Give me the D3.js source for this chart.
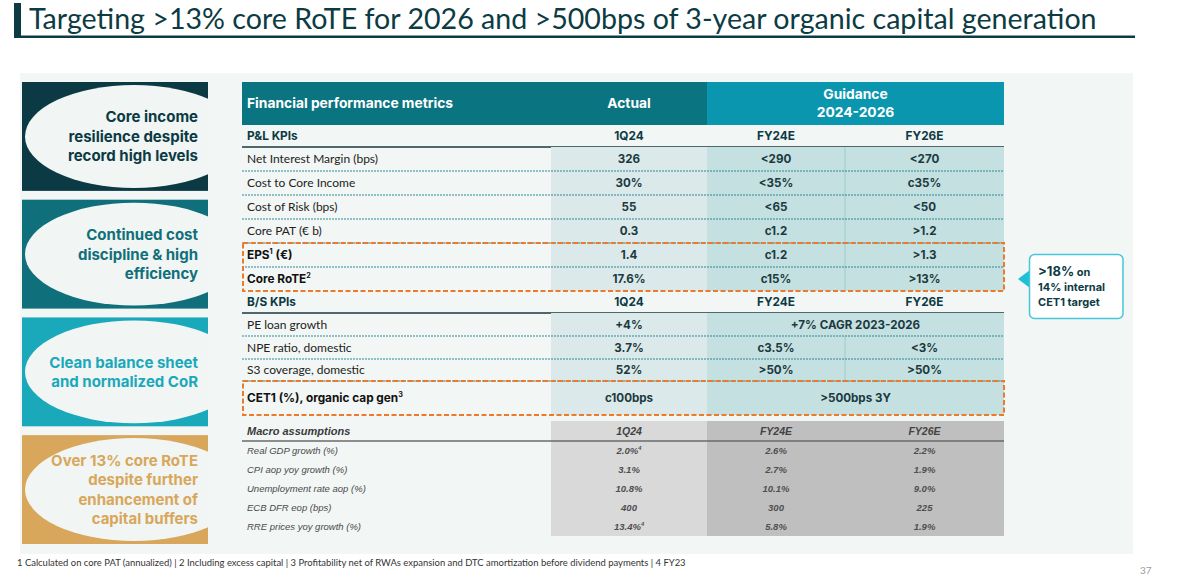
<!DOCTYPE html>
<html><head><meta charset="utf-8">
<script src="https://cdn.jsdelivr.net/npm/d3@7"></script>
<style>body{margin:0;background:#fff;} svg{display:block;}</style>
</head><body><svg id="c" width="1180" height="575"></svg>
<script>
// ---------------- DATA ----------------
const title = "Targeting >13% core RoTE for 2026 and >500bps of 3-year organic capital generation";
const pillars = [
  ["Core income", "resilience despite", "record high levels"],
  ["Continued cost", "discipline & high", "efficiency"],
  ["Clean balance sheet", "and normalized CoR"],
  ["Over 13% core RoTE", "despite further", "enhancement of", "capital buffers"]
];
const headerMetric = "Financial performance metrics";
const headerActual = "Actual";
const headerGuidance = ["Guidance", "2024-2026"];
const periods = ["1Q24", "FY24E", "FY26E"];
const plTitle = "P&L KPIs";
const plLabels = ["Net Interest Margin (bps)", "Cost to Core Income", "Cost of Risk (bps)", "Core PAT (€ b)", "EPS{1} (€)", "Core RoTE{2}"];
const plBold = [false, false, false, false, true, true];
const plActual = ["326", "30%", "55", "0.3", "1.4", "17.6%"];
const plFY24E = ["<290", "<35%", "<65", "c1.2", "c1.2", "c15%"];
const plFY26E = ["<270", "c35%", "<50", ">1.2", ">1.3", ">13%"];
const bsTitle = "B/S KPIs";
const bsLabels = ["PE loan growth", "NPE ratio, domestic", "S3 coverage, domestic", "CET1 (%), organic cap gen{3}"];
const bsBold = [false, false, false, true];
const bsActual = ["+4%", "3.7%", "52%", "c100bps"];
const bsFY24E = ["+7% CAGR 2023-2026", "c3.5%", ">50%", ">500bps 3Y"];
const bsFY26E = [null, "<3%", ">50%", null]; // null = merged with FY24E
const macroTitle = "Macro assumptions";
const macroLabels = ["Real GDP growth (%)", "CPI aop yoy growth (%)", "Unemployment rate aop (%)", "ECB DFR eop (bps)", "RRE prices yoy growth (%)"];
const macroActual = ["2.0%{4}", "3.1%", "10.8%", "400", "13.4%{4}"];
const macroFY24E = ["2.6%", "2.7%", "10.1%", "300", "5.8%"];
const macroFY26E = ["2.2%", "1.9%", "9.0%", "225", "1.9%"];
const highlightedPL = ["EPS{1} (€)", "Core RoTE{2}"];
const highlightedBS = ["CET1 (%), organic cap gen{3}"];
const calloutLines = [[">18%", " on"], ["14% internal"], ["CET1 target"]];
const footnote = "1 Calculated on core PAT (annualized) | 2 Including excess capital | 3 Profitability net of RWAs expansion and DTC amortization before dividend payments | 4 FY23";
const pageNumber = "37";

// ---------------- STYLE / LAYOUT ----------------
const svg = d3.select("#c");
const F = "Lato, 'Open Sans', sans-serif";
const FB = "Inter, Lato, sans-serif";
const FM = "'Liberation Sans', Arial, sans-serif";
const dark = "#0c3b44";
const pillarColors = ["#0b3a44", "#0f6f7a", "#1aa8bb", "#d8a75b"];

// text with {n} superscripts; baseline at y (no dy on the text element)
function rich(sel, str, size, supDy) {
  const parts = str.split(/\{(\d)\}/);
  let pending = 0;
  parts.forEach((p, i) => {
    if (p === "") return;
    if (i % 2 === 1) {
      sel.append("tspan").attr("dy", -supDy).attr("font-size", size * 0.6).text(p);
      pending = supDy;
    } else {
      const ts = sel.append("tspan").text(p);
      if (pending) ts.attr("dy", pending);
      pending = 0;
    }
  });
}

// Title
svg.append("rect").attr("x", 14).attr("y", 3).attr("width", 7).attr("height", 35).attr("fill", dark);
svg.append("rect").attr("x", 14).attr("y", 35.5).attr("width", 1121).attr("height", 2.5).attr("fill", dark);
const tt = svg.append("text").attr("x", 29).attr("y", 29).attr("font-family", F).attr("font-size", 28).attr("fill", dark).text(title);
{ const w = tt.node().getComputedTextLength(); tt.attr("font-size", 28 * 1068 / w); }

// Panel background
svg.append("rect").attr("x", 20).attr("y", 73).attr("width", 1113).attr("height", 481).attr("fill", "#f2f6f4");

// Pillars
const boxY = d3.scaleBand().domain(d3.range(pillars.length)).range([82, 544]).paddingInner(0.075);
const defs = svg.append("defs");
pillars.forEach((lines, i) => {
  const y0 = boxY(i), h = boxY.bandwidth();
  defs.append("clipPath").attr("id", "clip" + i).append("rect").attr("x", 22).attr("y", y0).attr("width", 186).attr("height", h);
  svg.append("rect").attr("x", 22).attr("y", y0).attr("width", 186).attr("height", h).attr("fill", pillarColors[i]);
  svg.append("ellipse").attr("clip-path", `url(#clip${i})`).attr("cx", 134).attr("cy", y0 + h / 2)
    .attr("rx", 109).attr("ry", h / 2 - 3).attr("fill", "#f1f5f3");
  const cy = y0 + h / 2;
  lines.forEach((l, j) => {
    svg.append("text").attr("x", 198).attr("y", cy + (j - (lines.length - 1) / 2) * 19.5).attr("dy", "0.36em")
      .attr("text-anchor", "end").attr("font-family", FB).attr("font-weight", 700).attr("font-size", 15)
      .attr("fill", pillarColors[i]).text(l);
  });
});

// Table columns
const cols = ["label", "Actual", "FY24E", "FY26E", "end"];
const xE = d3.scaleOrdinal().domain(cols).range([242, 551, 707, 845, 1004]);
const xMid = k => (xE(k) + xE(cols[cols.indexOf(k) + 1])) / 2;
const tL = xE("label"), tR = xE("end");

// Rows layout
let yCur = 82;
const hdrY0 = yCur; yCur += 43;
const plSubY0 = yCur; yCur += 22;
const plRowY = plLabels.map(() => { const y = yCur; yCur += 24; return y; });
const bsSubY0 = yCur; yCur += 22;
const bsH = [23, 23, 22, 34];
const bsRowY = bsLabels.map((_, i) => { const y = yCur; yCur += bsH[i]; return y; });
yCur += 6;
const mHdrY0 = yCur; yCur += 20;
const mRowY = macroLabels.map(() => { const y = yCur; yCur += 19; return y; });
const mEnd = yCur;

// Header
svg.append("rect").attr("x", tL).attr("y", hdrY0).attr("width", xE("FY24E") - tL).attr("height", 43).attr("fill", "#0a7480");
svg.append("rect").attr("x", xE("FY24E")).attr("y", hdrY0).attr("width", tR - xE("FY24E")).attr("height", 43).attr("fill", "#0a96ae");
const hTxt = (x, y, s, anchor) => svg.append("text").attr("x", x).attr("y", y).attr("dy", "0.36em").attr("text-anchor", anchor)
  .attr("font-family", FB).attr("font-weight", 700).attr("font-size", 13.8).attr("fill", "#fff").text(s);
hTxt(tL + 5, hdrY0 + 21, headerMetric, "start");
hTxt(xMid("Actual"), hdrY0 + 21, headerActual, "middle");
hTxt((xE("FY24E") + tR) / 2, hdrY0 + 12, headerGuidance[0], "middle");
hTxt((xE("FY24E") + tR) / 2, hdrY0 + 30, headerGuidance[1], "middle");

function subRow(y0, label) {
  const h = 22;
  svg.append("text").attr("x", tL + 5).attr("y", y0 + h / 2).attr("dy", "0.36em").attr("font-family", FB)
    .attr("font-weight", 700).attr("font-size", 11.8).attr("fill", dark).text(label);
  ["Actual", "FY24E", "FY26E"].forEach((k, i) => {
    svg.append("text").attr("x", xMid(k)).attr("y", y0 + h / 2).attr("dy", "0.36em").attr("text-anchor", "middle")
      .attr("font-family", FB).attr("font-weight", 700).attr("font-size", 11.8).attr("fill", dark).text(periods[i]);
  });
  svg.append("line").attr("x1", tL).attr("x2", tR).attr("y1", y0 + h).attr("y2", y0 + h).attr("stroke", "#17383e").attr("stroke-width", 1.5);
}

function dataRows(rowY, heights, labels, bold, act, f24, f26) {
  labels.forEach((lab, i) => {
    const y0 = rowY[i], h = heights[i], cy = y0 + h / 2;
    svg.append("rect").attr("x", xE("Actual")).attr("y", y0).attr("width", xE("FY24E") - xE("Actual")).attr("height", h).attr("fill", "#dce9ea");
    svg.append("rect").attr("x", xE("FY24E")).attr("y", y0).attr("width", tR - xE("FY24E")).attr("height", h).attr("fill", "#c5e0e1");
    if (f26[i] !== null) svg.append("line").attr("x1", xE("FY26E")).attr("x2", xE("FY26E")).attr("y1", y0).attr("y2", y0 + h).attr("stroke", "#9ecacd").attr("stroke-width", 1);
    const fs = bold[i] ? 11.8 : 12;
    const t = svg.append("text").attr("x", tL + 5).attr("y", cy + fs * 0.36)
      .attr("font-family", bold[i] ? FB : F).attr("font-size", fs)
      .attr("font-weight", bold[i] ? 700 : 400).attr("fill", bold[i] ? "#111" : "#222");
    rich(t, lab, 12, 5);
    const val = (x, s) => svg.append("text").attr("x", x).attr("y", cy).attr("dy", "0.36em").attr("text-anchor", "middle")
      .attr("font-family", FB).attr("font-weight", 700).attr("font-size", 11.6).attr("fill", "#1b3a40").text(s);
    val(xMid("Actual"), act[i]);
    if (f26[i] === null) val((xE("FY24E") + tR) / 2, f24[i]);
    else { val(xMid("FY24E"), f24[i]); val(xMid("FY26E"), f26[i]); }
    if (i > 0) svg.append("line").attr("x1", tL).attr("x2", tR).attr("y1", y0).attr("y2", y0)
      .attr("stroke", "#2a8993").attr("stroke-width", 1).attr("stroke-dasharray", "2,1");
  });
}

subRow(plSubY0, plTitle);
dataRows(plRowY, plLabels.map(() => 24), plLabels, plBold, plActual, plFY24E, plFY26E);
subRow(bsSubY0, bsTitle);
dataRows(bsRowY, bsH, bsLabels, bsBold, bsActual, bsFY24E, bsFY26E);

// Orange highlight boxes
function highlight(rowsY, heights, labels, targets) {
  const idx = targets.map(t => labels.indexOf(t));
  const y0 = rowsY[d3.min(idx)], i1 = d3.max(idx), y1 = rowsY[i1] + heights[i1];
  svg.append("rect").attr("x", tL + 1).attr("y", y0).attr("width", tR - tL - 1).attr("height", y1 - y0)
    .attr("fill", "none").attr("stroke", "#ec7a2b").attr("stroke-width", 2).attr("stroke-dasharray", "5,2.5");
}
highlight(plRowY, plLabels.map(() => 24), plLabels, highlightedPL);
highlight(bsRowY, bsH, bsLabels, highlightedBS);

// Macro section
svg.append("rect").attr("x", xE("Actual")).attr("y", mHdrY0).attr("width", xE("FY24E") - xE("Actual")).attr("height", mEnd - mHdrY0).attr("fill", "#d9d9d9");
svg.append("rect").attr("x", xE("FY24E")).attr("y", mHdrY0).attr("width", tR - xE("FY24E")).attr("height", mEnd - mHdrY0).attr("fill", "#bfbfbf");
svg.append("text").attr("x", tL + 5).attr("y", mHdrY0 + 10).attr("dy", "0.36em").attr("font-family", FM).attr("font-style", "italic")
  .attr("font-weight", 700).attr("font-size", 11).attr("fill", "#3a3a3a").text(macroTitle);
["Actual", "FY24E", "FY26E"].forEach((k, i) => {
  svg.append("text").attr("x", xMid(k)).attr("y", mHdrY0 + 10).attr("dy", "0.36em").attr("text-anchor", "middle")
    .attr("font-family", FM).attr("font-style", "italic").attr("font-weight", 700).attr("font-size", 10.5).attr("fill", "#444").text(periods[i]);
});
svg.append("line").attr("x1", tL).attr("x2", tR).attr("y1", mHdrY0 + 20).attr("y2", mHdrY0 + 20).attr("stroke", "#6a6a6a").attr("stroke-width", 1.5);
macroLabels.forEach((lab, i) => {
  const cy = mRowY[i] + 10;
  svg.append("text").attr("x", tL + 5).attr("y", cy).attr("dy", "0.36em").attr("font-family", FM).attr("font-style", "italic")
    .attr("font-size", 9.5).attr("fill", "#4a4a4a").text(lab);
  [["Actual", macroActual], ["FY24E", macroFY24E], ["FY26E", macroFY26E]].forEach(([k, arr]) => {
    const t = svg.append("text").attr("x", xMid(k)).attr("y", cy + 9.5 * 0.36).attr("text-anchor", "middle")
      .attr("font-family", FM).attr("font-style", "italic").attr("font-weight", 700).attr("font-size", 9.5).attr("fill", "#4f4f4f");
    rich(t, arr[i], 9.5, 4);
  });
});

// Callout
svg.append("path").attr("d", "M1018,279 L1030,270 L1030,288 Z").attr("fill", "#1ec0d6");
svg.append("rect").attr("x", 1029.5).attr("y", 254.5).attr("width", 93.5).attr("height", 64).attr("rx", 5)
  .attr("fill", "#ffffff").attr("stroke", "#46c7d9").attr("stroke-width", 1.5);
calloutLines.forEach((parts, j) => {
  const t = svg.append("text").attr("x", 1038).attr("y", 276 + j * 15).attr("font-family", FB).attr("font-weight", 700)
    .attr("font-size", 11).attr("fill", dark);
  parts.forEach((p, k) => t.append("tspan").attr("font-size", (j === 0 && k === 0) ? 13 : 11).text(p));
});

// Footnote & page number
const fn = svg.append("text").attr("x", 17).attr("y", 566).attr("font-family", F).attr("font-size", 10).attr("fill", "#333").text(footnote);
{ const w = fn.node().getComputedTextLength(); fn.attr("font-size", 10 * 669 / w); }
svg.append("text").attr("x", 1140).attr("y", 574).attr("font-family", F).attr("font-size", 10).attr("fill", "#9a9a9a").text(pageNumber);
</script></body></html>
